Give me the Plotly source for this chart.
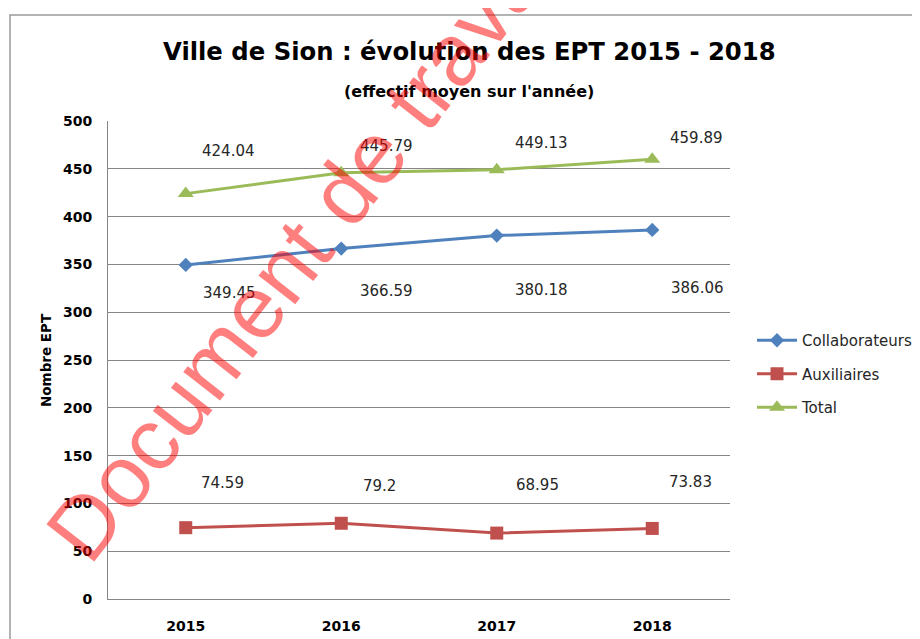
import plotly.graph_objects as go

# ---- data ----
years = ["2015", "2016", "2017", "2018"]
collaborateurs = [349.45, 366.59, 380.18, 386.06]
auxiliaires = [74.59, 79.2, 68.95, 73.83]
total = [424.04, 445.79, 449.13, 459.89]

series_names = ["Collaborateurs", "Auxiliaires", "Total"]
y_ticks = [0, 50, 100, 150, 200, 250, 300, 350, 400, 450, 500]

title_text = "Ville de Sion : évolution des EPT 2015 - 2018"
subtitle_text = "(effectif moyen sur l'année)"
y_title = "Nombre EPT"
watermark = "Document de travail"

# ---- styling / layout (pixels) ----
OFF = 8                      # page body margin offset
W, H = 912, 631
ML, MR, MT, MB = 100, 190, 113, 40
PW, PH = W - ML - MR, H - MT - MB

def px_x(px):                # screen px -> paper
    return (px - OFF - ML) / PW

def px_y(py):
    return (H - MB - (py - OFF)) / PH

colors = {"Collaborateurs": "#4F81BD", "Auxiliaires": "#C0504D", "Total": "#9BBB59"}
symbols = {"Collaborateurs": "diamond", "Auxiliaires": "square", "Total": "triangle-up"}
msizes = {"Collaborateurs": 11, "Auxiliaires": 13, "Total": 14}

# label offsets in px (dx right, dy down)
label_offsets = {
    "Collaborateurs": [(44, 28), (45, 42), (45, 54), (45, 58)],
    "Auxiliaires": [(37, -45), (38, -37), (41, -48), (38, -46)],
    "Total": [(43, -43), (45, -27), (45, -27), (44, -21)],
}

values = {"Collaborateurs": collaborateurs, "Auxiliaires": auxiliaires, "Total": total}

fig = go.Figure()
for name in series_names:
    fig.add_trace(go.Scatter(
        x=years, y=values[name], name=name, mode="lines+markers",
        line=dict(color=colors[name], width=3),
        marker=dict(symbol=symbols[name], size=msizes[name], color=colors[name]),
        legendgroup=name,
    ))

annotations = []
for name in series_names:
    for i, (yv, (dx, dy)) in enumerate(zip(values[name], label_offsets[name])):
        annotations.append(dict(
            x=i, y=yv, xref="x", yref="y", text=f"{yv:g}", showarrow=False,
            xshift=dx, yshift=-dy, xanchor="center", yanchor="middle",
            font=dict(family="DejaVu Sans", size=15, color="#262626"),
        ))

annotations.append(dict(
    x=px_x(469.5), y=px_y(51), xref="paper", yref="paper", text=f"<b>{title_text}</b>",
    showarrow=False, xanchor="center", yanchor="middle",
    font=dict(family="DejaVu Sans", size=24.3, color="#000000"),
))
annotations.append(dict(
    x=px_x(468.5), y=px_y(91), xref="paper", yref="paper", text=f"<b>{subtitle_text}</b>",
    showarrow=False, xanchor="center", yanchor="middle",
    font=dict(family="DejaVu Sans", size=16, color="#000000"),
))
annotations.append(dict(
    x=px_x(46), y=px_y(360), xref="paper", yref="paper", text=f"<b>{y_title}</b>",
    showarrow=False, xanchor="center", yanchor="middle", textangle=-90,
    font=dict(family="DejaVu Sans", size=13.5, color="#000000"),
))
annotations.append(dict(
    x=px_x(306), y=px_y(240), xref="paper", yref="paper", text=watermark,
    showarrow=False, xanchor="center", yanchor="middle", textangle=-52,
    font=dict(family="Liberation Sans", size=88, color="rgba(255,0,0,0.5)"),
))

fig.update_layout(
    width=W, height=H,
    margin=dict(l=ML, r=MR, t=MT, b=MB, pad=0, autoexpand=False),
    paper_bgcolor="white", plot_bgcolor="white",
    showlegend=True,
    legend=dict(
        x=px_x(752), y=px_y(324), xanchor="left", yanchor="top",
        font=dict(family="DejaVu Sans", size=15, color="#262626"),
        itemwidth=40, tracegroupgap=11, bgcolor="rgba(0,0,0,0)",
    ),
    annotations=annotations,
    shapes=[dict(
        type="rect", xref="paper", yref="paper",
        x0=px_x(10), x1=px_x(940), y0=px_y(660), y1=px_y(15),
        line=dict(color="#9a9a9a", width=1.5), fillcolor="rgba(0,0,0,0)", layer="below",
    )],
    xaxis=dict(
        type="category", range=[-0.5, 3.5], autorange=False,
        showgrid=False, showline=True, linecolor="#868686", linewidth=1,
        ticks="", tickfont=dict(family="DejaVu Sans", size=14, color="#000000", weight="bold"),
        ticklabelstandoff=14, zeroline=False, fixedrange=True,
    ),
    yaxis=dict(
        range=[0, 500], autorange=False, tickvals=y_ticks, showgrid=True,
        gridcolor="#868686", gridwidth=1,
        showline=True, linecolor="#868686", linewidth=1, zeroline=False,
        ticks="", tickfont=dict(family="DejaVu Sans", size=14, color="#000000", weight="bold"),
        ticklabelstandoff=12, fixedrange=True,
    ),
)

fig.write_html("out.html")
